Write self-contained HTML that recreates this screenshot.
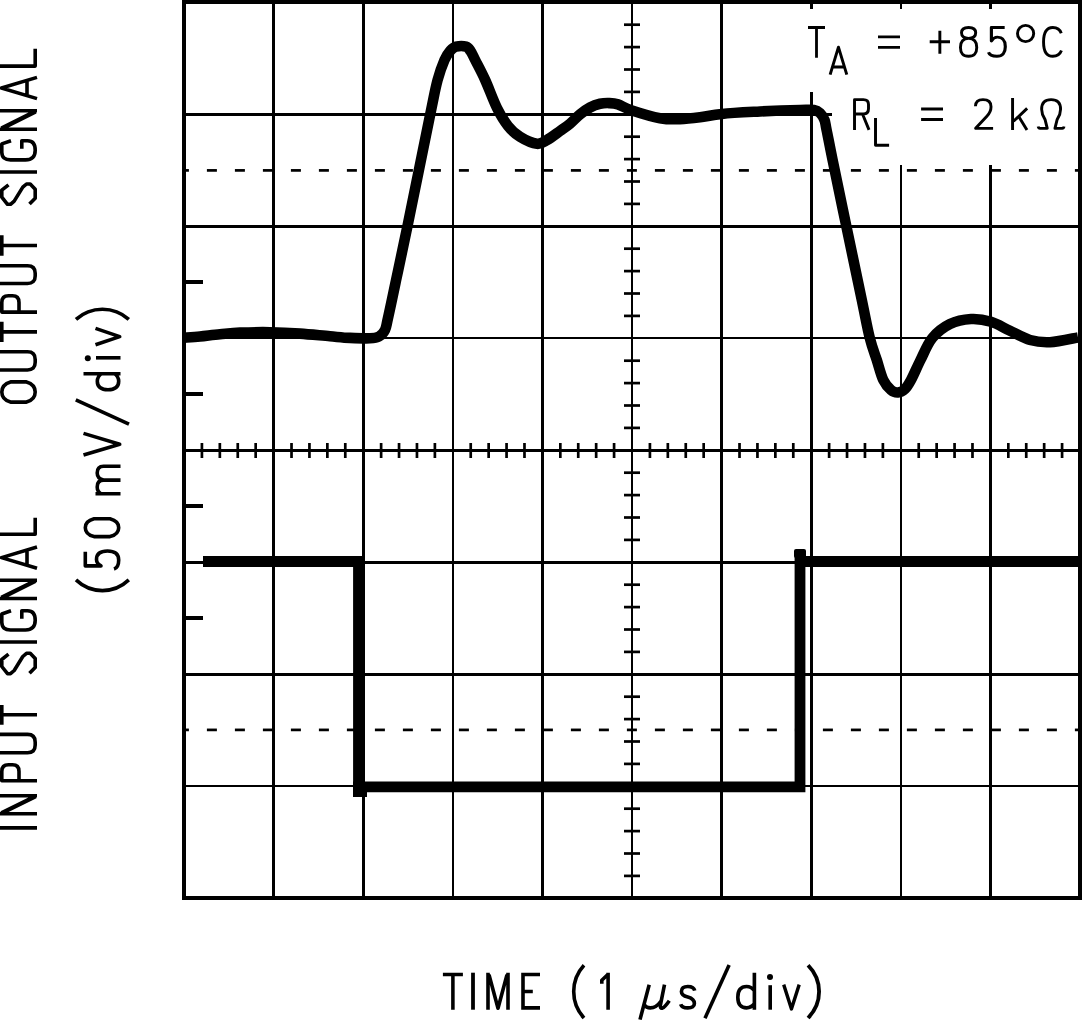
<!DOCTYPE html>
<html><head><meta charset="utf-8"><style>
html,body{margin:0;padding:0;background:#fff;width:1083px;height:1021px;overflow:hidden}
svg{display:block}
</style></head><body><svg width="1083" height="1021" viewBox="0 0 1083 1021"><g fill="#000" shape-rendering="crispEdges"><rect x="272" y="0" width="3" height="900"/><rect x="362" y="0" width="3" height="900"/><rect x="452" y="0" width="2" height="900"/><rect x="541" y="0" width="3" height="900"/><rect x="631" y="0" width="2" height="900"/><rect x="720" y="0" width="3" height="900"/><rect x="810" y="0" width="3" height="900"/><rect x="900" y="0" width="2" height="900"/><rect x="989" y="0" width="3" height="900"/><rect x="182" y="113" width="900" height="3"/><rect x="182" y="225" width="900" height="3"/><rect x="182" y="337" width="900" height="2"/><rect x="182" y="449" width="900" height="3"/><rect x="182" y="561" width="900" height="3"/><rect x="182" y="673" width="900" height="3"/><rect x="182" y="785" width="900" height="2"/></g><g stroke="#000" stroke-width="2.7" fill="none"><line x1="624" y1="24.70" x2="640" y2="24.70"/><line x1="624" y1="47.10" x2="640" y2="47.10"/><line x1="624" y1="69.50" x2="640" y2="69.50"/><line x1="624" y1="91.90" x2="640" y2="91.90"/><line x1="624" y1="136.70" x2="640" y2="136.70"/><line x1="624" y1="159.10" x2="640" y2="159.10"/><line x1="624" y1="181.50" x2="640" y2="181.50"/><line x1="624" y1="203.90" x2="640" y2="203.90"/><line x1="624" y1="248.70" x2="640" y2="248.70"/><line x1="624" y1="271.10" x2="640" y2="271.10"/><line x1="624" y1="293.50" x2="640" y2="293.50"/><line x1="624" y1="315.90" x2="640" y2="315.90"/><line x1="624" y1="360.70" x2="640" y2="360.70"/><line x1="624" y1="383.10" x2="640" y2="383.10"/><line x1="624" y1="405.50" x2="640" y2="405.50"/><line x1="624" y1="427.90" x2="640" y2="427.90"/><line x1="624" y1="472.70" x2="640" y2="472.70"/><line x1="624" y1="495.10" x2="640" y2="495.10"/><line x1="624" y1="517.50" x2="640" y2="517.50"/><line x1="624" y1="539.90" x2="640" y2="539.90"/><line x1="624" y1="584.70" x2="640" y2="584.70"/><line x1="624" y1="607.10" x2="640" y2="607.10"/><line x1="624" y1="629.50" x2="640" y2="629.50"/><line x1="624" y1="651.90" x2="640" y2="651.90"/><line x1="624" y1="696.70" x2="640" y2="696.70"/><line x1="624" y1="719.10" x2="640" y2="719.10"/><line x1="624" y1="741.50" x2="640" y2="741.50"/><line x1="624" y1="763.90" x2="640" y2="763.90"/><line x1="624" y1="808.70" x2="640" y2="808.70"/><line x1="624" y1="831.10" x2="640" y2="831.10"/><line x1="624" y1="853.50" x2="640" y2="853.50"/><line x1="624" y1="875.90" x2="640" y2="875.90"/><line x1="201.92" y1="443" x2="201.92" y2="458"/><line x1="219.84" y1="443" x2="219.84" y2="458"/><line x1="237.76" y1="443" x2="237.76" y2="458"/><line x1="255.68" y1="443" x2="255.68" y2="458"/><line x1="291.52" y1="443" x2="291.52" y2="458"/><line x1="309.44" y1="443" x2="309.44" y2="458"/><line x1="327.36" y1="443" x2="327.36" y2="458"/><line x1="345.28" y1="443" x2="345.28" y2="458"/><line x1="381.12" y1="443" x2="381.12" y2="458"/><line x1="399.04" y1="443" x2="399.04" y2="458"/><line x1="416.96" y1="443" x2="416.96" y2="458"/><line x1="434.88" y1="443" x2="434.88" y2="458"/><line x1="470.72" y1="443" x2="470.72" y2="458"/><line x1="488.64" y1="443" x2="488.64" y2="458"/><line x1="506.56" y1="443" x2="506.56" y2="458"/><line x1="524.48" y1="443" x2="524.48" y2="458"/><line x1="560.32" y1="443" x2="560.32" y2="458"/><line x1="578.24" y1="443" x2="578.24" y2="458"/><line x1="596.16" y1="443" x2="596.16" y2="458"/><line x1="614.08" y1="443" x2="614.08" y2="458"/><line x1="649.92" y1="443" x2="649.92" y2="458"/><line x1="667.84" y1="443" x2="667.84" y2="458"/><line x1="685.76" y1="443" x2="685.76" y2="458"/><line x1="703.68" y1="443" x2="703.68" y2="458"/><line x1="739.52" y1="443" x2="739.52" y2="458"/><line x1="757.44" y1="443" x2="757.44" y2="458"/><line x1="775.36" y1="443" x2="775.36" y2="458"/><line x1="793.28" y1="443" x2="793.28" y2="458"/><line x1="829.12" y1="443" x2="829.12" y2="458"/><line x1="847.04" y1="443" x2="847.04" y2="458"/><line x1="864.96" y1="443" x2="864.96" y2="458"/><line x1="882.88" y1="443" x2="882.88" y2="458"/><line x1="918.72" y1="443" x2="918.72" y2="458"/><line x1="936.64" y1="443" x2="936.64" y2="458"/><line x1="954.56" y1="443" x2="954.56" y2="458"/><line x1="972.48" y1="443" x2="972.48" y2="458"/><line x1="1008.32" y1="443" x2="1008.32" y2="458"/><line x1="1026.24" y1="443" x2="1026.24" y2="458"/><line x1="1044.16" y1="443" x2="1044.16" y2="458"/><line x1="1062.08" y1="443" x2="1062.08" y2="458"/></g><g stroke="#000" stroke-width="4" fill="none"><line x1="182" y1="282" x2="203" y2="282"/><line x1="182" y1="394" x2="203" y2="394"/><line x1="182" y1="506" x2="203" y2="506"/><line x1="182" y1="618" x2="203" y2="618"/></g><g fill="#000"><rect x="182.00" y="169.05" width="6.90" height="2.7"/><rect x="206.90" y="169.05" width="10.00" height="2.7"/><rect x="234.90" y="169.05" width="10.00" height="2.7"/><rect x="262.90" y="169.05" width="10.00" height="2.7"/><rect x="290.90" y="169.05" width="10.00" height="2.7"/><rect x="318.90" y="169.05" width="10.00" height="2.7"/><rect x="346.90" y="169.05" width="10.00" height="2.7"/><rect x="374.90" y="169.05" width="10.00" height="2.7"/><rect x="402.90" y="169.05" width="10.00" height="2.7"/><rect x="430.90" y="169.05" width="10.00" height="2.7"/><rect x="458.90" y="169.05" width="10.00" height="2.7"/><rect x="486.90" y="169.05" width="10.00" height="2.7"/><rect x="514.90" y="169.05" width="10.00" height="2.7"/><rect x="542.90" y="169.05" width="10.00" height="2.7"/><rect x="570.90" y="169.05" width="10.00" height="2.7"/><rect x="598.90" y="169.05" width="10.00" height="2.7"/><rect x="626.90" y="169.05" width="10.00" height="2.7"/><rect x="654.90" y="169.05" width="10.00" height="2.7"/><rect x="682.90" y="169.05" width="10.00" height="2.7"/><rect x="710.90" y="169.05" width="10.00" height="2.7"/><rect x="738.90" y="169.05" width="10.00" height="2.7"/><rect x="766.90" y="169.05" width="10.00" height="2.7"/><rect x="794.90" y="169.05" width="10.00" height="2.7"/><rect x="822.90" y="169.05" width="10.00" height="2.7"/><rect x="850.90" y="169.05" width="10.00" height="2.7"/><rect x="878.90" y="169.05" width="10.00" height="2.7"/><rect x="906.90" y="169.05" width="10.00" height="2.7"/><rect x="934.90" y="169.05" width="10.00" height="2.7"/><rect x="962.90" y="169.05" width="10.00" height="2.7"/><rect x="990.90" y="169.05" width="10.00" height="2.7"/><rect x="1018.90" y="169.05" width="10.00" height="2.7"/><rect x="1046.90" y="169.05" width="10.00" height="2.7"/><rect x="1074.90" y="169.05" width="7.10" height="2.7"/><rect x="182.00" y="728.55" width="6.90" height="2.7"/><rect x="206.90" y="728.55" width="10.00" height="2.7"/><rect x="234.90" y="728.55" width="10.00" height="2.7"/><rect x="262.90" y="728.55" width="10.00" height="2.7"/><rect x="290.90" y="728.55" width="10.00" height="2.7"/><rect x="318.90" y="728.55" width="10.00" height="2.7"/><rect x="346.90" y="728.55" width="10.00" height="2.7"/><rect x="374.90" y="728.55" width="10.00" height="2.7"/><rect x="402.90" y="728.55" width="10.00" height="2.7"/><rect x="430.90" y="728.55" width="10.00" height="2.7"/><rect x="458.90" y="728.55" width="10.00" height="2.7"/><rect x="486.90" y="728.55" width="10.00" height="2.7"/><rect x="514.90" y="728.55" width="10.00" height="2.7"/><rect x="542.90" y="728.55" width="10.00" height="2.7"/><rect x="570.90" y="728.55" width="10.00" height="2.7"/><rect x="598.90" y="728.55" width="10.00" height="2.7"/><rect x="626.90" y="728.55" width="10.00" height="2.7"/><rect x="654.90" y="728.55" width="10.00" height="2.7"/><rect x="682.90" y="728.55" width="10.00" height="2.7"/><rect x="710.90" y="728.55" width="10.00" height="2.7"/><rect x="738.90" y="728.55" width="10.00" height="2.7"/><rect x="766.90" y="728.55" width="10.00" height="2.7"/><rect x="794.90" y="728.55" width="10.00" height="2.7"/><rect x="822.90" y="728.55" width="10.00" height="2.7"/><rect x="850.90" y="728.55" width="10.00" height="2.7"/><rect x="878.90" y="728.55" width="10.00" height="2.7"/><rect x="906.90" y="728.55" width="10.00" height="2.7"/><rect x="934.90" y="728.55" width="10.00" height="2.7"/><rect x="962.90" y="728.55" width="10.00" height="2.7"/><rect x="990.90" y="728.55" width="10.00" height="2.7"/><rect x="1018.90" y="728.55" width="10.00" height="2.7"/><rect x="1046.90" y="728.55" width="10.00" height="2.7"/><rect x="1074.90" y="728.55" width="7.10" height="2.7"/></g><rect x="184" y="2" width="896" height="896" fill="none" stroke="#000" stroke-width="4"/><rect x="800" y="9" width="278" height="83" fill="#fff"/><rect x="832" y="92" width="246" height="73" fill="#fff"/><path d="M184.0,337.7 C186.7,337.5 194.0,337.1 200.0,336.5 C206.0,335.9 213.3,334.8 220.0,334.2 C226.7,333.6 231.7,332.9 240.0,332.6 C248.3,332.3 260.0,332.0 270.0,332.2 C280.0,332.4 290.0,332.9 300.0,333.6 C310.0,334.3 321.7,335.6 330.0,336.3 C338.3,337.0 343.3,337.6 350.0,337.9 C356.7,338.2 365.2,338.5 370.0,338.3 C374.8,338.1 376.5,337.9 379.0,336.5 C381.5,335.1 383.5,333.1 385.0,330.0 C386.5,326.9 386.1,326.3 388.0,318.0 C389.9,309.7 392.9,295.3 396.1,280.0 C399.4,264.7 401.8,253.7 407.5,226.0 C413.2,198.3 425.3,138.3 430.3,114.0 C435.3,89.7 435.2,89.0 437.6,80.0 C440.0,71.0 442.4,64.9 444.5,60.0 C446.6,55.1 448.6,52.7 450.5,50.5 C452.4,48.3 453.4,47.2 456.0,46.6 C458.6,46.0 463.6,45.9 466.0,46.6 C468.4,47.3 469.0,48.8 470.5,51.0 C472.0,53.2 472.8,55.2 475.2,60.0 C477.6,64.8 481.6,72.0 485.2,80.0 C488.8,88.0 493.2,100.3 497.0,108.0 C500.8,115.7 504.2,121.2 508.0,126.0 C511.8,130.8 515.2,133.8 520.0,136.8 C524.8,139.8 532.5,143.3 537.0,143.8 C541.5,144.3 543.2,142.1 547.0,140.0 C550.8,137.9 556.2,133.7 560.0,131.0 C563.8,128.3 566.7,126.5 570.0,123.7 C573.3,120.9 576.7,117.1 580.0,114.4 C583.3,111.7 586.7,109.3 590.0,107.5 C593.3,105.7 596.8,104.5 600.0,103.8 C603.2,103.1 606.0,103.0 609.0,103.1 C612.0,103.2 614.2,103.2 618.0,104.4 C621.8,105.6 625.0,108.2 632.0,110.5 C639.0,112.8 652.0,116.8 660.0,118.2 C668.0,119.7 673.3,119.4 680.0,119.2 C686.7,119.0 693.0,118.2 700.0,117.3 C707.0,116.4 712.0,114.9 722.0,113.9 C732.0,112.9 747.0,112.2 760.0,111.5 C773.0,110.8 791.0,110.2 800.0,110.0 C809.0,109.8 810.7,109.5 814.0,110.0 C817.3,110.5 818.2,111.3 820.0,113.0 C821.8,114.7 823.4,117.2 824.5,120.0 C825.6,122.8 825.2,123.3 826.6,130.0 C828.0,136.7 829.3,144.0 832.6,160.0 C835.9,176.0 841.4,202.7 846.3,226.0 C851.2,249.3 857.9,281.3 861.8,300.0 C865.7,318.7 867.3,328.0 869.8,338.0 C872.3,348.0 874.5,353.0 876.8,360.0 C879.0,367.0 880.9,375.0 883.3,380.0 C885.7,385.0 888.5,387.9 891.0,390.0 C893.5,392.1 895.7,392.7 898.0,392.5 C900.3,392.3 902.8,391.1 905.0,389.0 C907.2,386.9 908.4,384.8 911.0,380.0 C913.6,375.2 917.0,367.0 920.5,360.0 C924.0,353.0 927.4,344.0 932.3,338.0 C937.2,332.0 943.5,327.2 950.0,324.0 C956.5,320.8 964.2,319.4 971.0,319.0 C977.8,318.6 984.5,319.8 991.0,321.8 C997.5,323.8 1003.5,327.8 1010.0,330.8 C1016.5,333.8 1023.3,338.1 1030.0,340.0 C1036.7,341.9 1042.0,342.6 1050.0,342.2 C1058.0,341.8 1073.3,338.3 1078.0,337.5" fill="none" stroke="#000" stroke-width="10.6" stroke-linejoin="round" stroke-linecap="butt"/><path d="M203,561.5 H358.5 V792 M353,786.8 H800 V561.5 H1078" fill="none" stroke="#000" stroke-width="10.8" stroke-linejoin="miter"/><rect x="353" y="790" width="14" height="7" fill="#000"/><rect x="794" y="549" width="12" height="9" rx="2" fill="#000"/><g fill="none" stroke="#000" stroke-linecap="butt" stroke-linejoin="round"><g transform="translate(37,404) rotate(-90)"><path transform="translate(0.10,0) scale(1.0000,1.0000)" d="M11.9,-35.2 Q19.5,-35.2 22,-26.5 V-10.5 Q19.5,-1.8 11.9,-1.8 Q4.3,-1.8 1.8,-10.5 V-26.5 Q4.3,-35.2 11.9,-35.2 Z" stroke-width="3.60"/><path transform="translate(32.20,0) scale(1.0000,1.0000)" d="M1.8,-37 V-9.5 Q1.8,-1.8 9.5,-1.8 H12.3 Q20,-1.8 20,-9.5 V-37" stroke-width="3.60"/><path transform="translate(62.10,0) scale(0.9901,1.0000)" d="M0,-35.2 H20.3 M10.15,-35.2 V0" stroke-width="3.60"/><path transform="translate(90.10,0) scale(0.9950,1.0000)" d="M1.8,0 V-35.2 H11.5 Q18.2,-35.2 18.2,-28.5 V-24.5 Q18.2,-18 11.5,-18 H1.8" stroke-width="3.60"/><path transform="translate(118.80,0) scale(0.9725,1.0000)" d="M1.8,-37 V-9.5 Q1.8,-1.8 9.5,-1.8 H12.3 Q20,-1.8 20,-9.5 V-37" stroke-width="3.60"/><path transform="translate(148.20,0) scale(1.0148,1.0000)" d="M0,-35.2 H20.3 M10.15,-35.2 V0" stroke-width="3.60"/><path transform="translate(197.90,0) scale(0.9958,1.0000)" d="M21.3,-28.5 L16,-35.2 H9 L1.8,-29.5 V-26.5 L5,-22.8 L19,-14.2 L22.2,-10.5 V-6.8 L17,-1.8 H8 L2.2,-7.5" stroke-width="3.60"/><path transform="translate(230.10,0) scale(1.0000,1.0000)" d="M1.9,-37 V0" stroke-width="3.60"/><path transform="translate(242.30,0) scale(1.0000,1.0000)" d="M21,-26 L17.8,-35.2 H9.5 Q1.8,-35.2 1.8,-26.5 V-11.5 Q1.8,-1.8 11.5,-1.8 Q21,-1.8 21,-9.5 V-15.2 H13" stroke-width="3.60"/><path transform="translate(273.00,0) scale(1.0000,1.0000)" d="M1.8,0 V-37 M20.2,0 V-37 M2.1,-35.3 L19.1,-1.3 M2.9,-35.7 L19.9,-1.7" stroke-width="3.60"/><path transform="translate(304.10,0) scale(1.0000,1.0000)" d="M1.3,0 L11.9,-35.5 L22.5,0 M4.6,-10 H19.2" stroke-width="3.60"/><path transform="translate(336.10,0) scale(1.0000,1.0000)" d="M1.8,-37 V-1.8 H19.1" stroke-width="3.60"/></g><g transform="translate(37,829.8) rotate(-90)"><path transform="translate(0.00,0) scale(1.0000,1.0000)" d="M1.9,-37 V0" stroke-width="3.60"/><path transform="translate(14.20,0) scale(0.9864,1.0000)" d="M1.8,0 V-37 M20.2,0 V-37 M2.1,-35.3 L19.1,-1.3 M2.9,-35.7 L19.9,-1.7" stroke-width="3.60"/><path transform="translate(47.20,0) scale(0.9750,1.0000)" d="M1.8,0 V-35.2 H11.5 Q18.2,-35.2 18.2,-28.5 V-24.5 Q18.2,-18 11.5,-18 H1.8" stroke-width="3.60"/><path transform="translate(75.20,0) scale(1.0092,1.0000)" d="M1.8,-37 V-9.5 Q1.8,-1.8 9.5,-1.8 H12.3 Q20,-1.8 20,-9.5 V-37" stroke-width="3.60"/><path transform="translate(105.00,0) scale(0.9803,1.0000)" d="M0,-35.2 H20.3 M10.15,-35.2 V0" stroke-width="3.60"/><path transform="translate(154.30,0) scale(1.0000,1.0000)" d="M21.3,-28.5 L16,-35.2 H9 L1.8,-29.5 V-26.5 L5,-22.8 L19,-14.2 L22.2,-10.5 V-6.8 L17,-1.8 H8 L2.2,-7.5" stroke-width="3.60"/><path transform="translate(185.90,0) scale(1.0000,1.0000)" d="M1.9,-37 V0" stroke-width="3.60"/><path transform="translate(198.00,0) scale(1.0000,1.0000)" d="M21,-26 L17.8,-35.2 H9.5 Q1.8,-35.2 1.8,-26.5 V-11.5 Q1.8,-1.8 11.5,-1.8 Q21,-1.8 21,-9.5 V-15.2 H13" stroke-width="3.60"/><path transform="translate(229.60,0) scale(0.9909,1.0000)" d="M1.8,0 V-37 M20.2,0 V-37 M2.1,-35.3 L19.1,-1.3 M2.9,-35.7 L19.9,-1.7" stroke-width="3.60"/><path transform="translate(260.30,0) scale(1.0000,1.0000)" d="M1.3,0 L11.9,-35.5 L22.5,0 M4.6,-10 H19.2" stroke-width="3.60"/><path transform="translate(293.80,0) scale(0.9529,1.0000)" d="M1.8,-37 V-1.8 H19.1" stroke-width="3.60"/></g><g transform="translate(120.5,592.3) rotate(-90)"><path transform="translate(0.00,0) scale(1.0385,1.0000)" d="M12,-44.5 A39,39 0 0 0 12,8.3" stroke-width="3.60"/><path transform="translate(21.80,0) scale(1.0000,1.0000)" d="M18.8,-35.2 H4.6 V-19.5 Q7,-24 11,-24 Q19.5,-24 19.5,-13 Q19.5,-1.8 10.5,-1.8 Q3,-1.8 1.5,-6.5" stroke-width="3.60"/><path transform="translate(53.90,0) scale(1.0000,1.0000)" d="M10.7,-35.2 Q17.3,-35.2 19.6,-26.5 V-10.5 Q17.3,-1.8 10.7,-1.8 Q4.1,-1.8 1.8,-10.5 V-26.5 Q4.1,-35.2 10.7,-35.2 Z" stroke-width="3.60"/><path transform="translate(96.80,0) scale(1.0000,1.0000)" d="M1.7,0 V-25 M1.7,-19.5 Q4,-23.3 8.5,-23.3 Q15.4,-23.3 15.4,-17 V0 M15.4,-17 Q17,-23.3 22.5,-23.3 Q29.2,-23.3 29.2,-17 V0" stroke-width="3.60"/><path transform="translate(135.70,0) scale(1.0000,1.0000)" d="M1.6,-37 L12.4,-0.8 L23.2,-37" stroke-width="3.60"/><path transform="translate(166.30,0) scale(1.0000,1.0000)" d="M1.8,8.5 L26.2,-44.7" stroke-width="3.60"/><path transform="translate(200.70,0) scale(0.9850,1.0000)" d="M18.2,-37 V0 M18.2,-19 Q15,-23.2 10.5,-23.2 Q1.8,-23.2 1.8,-12.5 Q1.8,-1.8 10.5,-1.8 Q15,-1.8 18.2,-6" stroke-width="3.60"/><path transform="translate(231.30,0) scale(1.0000,1.0000)" d="M3.2,-24.5 V0" stroke-width="3.60"/><path transform="translate(245.80,0) scale(1.0000,1.0000)" d="M1.7,-25 L9.9,-0.8 L18.1,-25" stroke-width="3.60"/><path transform="translate(271.90,0) scale(0.9846,1.0000)" d="M1,-44.5 A39,39 0 0 1 1,8.3" stroke-width="3.60"/></g><g transform="translate(0,1009.7)"><path transform="translate(442.90,0) scale(0.9852,1.0000)" d="M0,-35.2 H20.3 M10.15,-35.2 V0" stroke-width="3.60"/><path transform="translate(471.00,0) scale(1.0526,1.0000)" d="M1.9,-37 V0" stroke-width="3.60"/><path transform="translate(486.00,0) scale(1.0000,1.0000)" d="M2,0 V-37 M22,0 V-37 M3,-35 L12,-1.5 L21,-35" stroke-width="3.60"/><path transform="translate(521.00,0) scale(1.0000,1.0000)" d="M2,0 V-37 M0.2,-35.2 H19 M0.2,-18.2 H11.8 M0.2,-1.8 H19" stroke-width="3.60"/><path transform="translate(572.00,0) scale(1.0000,1.0000)" d="M12,-44.5 A39,39 0 0 0 12,8.3" stroke-width="3.60"/><path transform="translate(600.00,0) scale(1.0000,1.0000)" d="M8.1,0 V-37 M8.1,-35.5 L1.8,-29.5 V-26" stroke-width="3.60"/><path transform="translate(637.80,0) scale(1.0000,1.0000)" d="M11.4,-25 L2.2,9.9 M6.4,-5 Q8.5,-1.8 12.5,-1.8 Q18.5,-1.8 23.5,-9 M26.7,-25 L22.6,-4.5 Q22.3,-1 24.5,-1.5 Q27,-2.5 31.5,-9" stroke-width="3.60"/><path transform="translate(679.20,0) scale(1.0118,1.0000)" d="M15.3,-19 Q14.5,-23.2 8.5,-23.2 Q2.2,-23.2 2.2,-18.3 Q2.2,-14.2 8.5,-12.8 Q15,-11 15,-6.3 Q15,-1.8 8.5,-1.8 Q2.5,-1.8 1.5,-5.5" stroke-width="3.60"/><path transform="translate(703.20,0) scale(0.9893,1.0000)" d="M1.8,8.5 L26.2,-44.7" stroke-width="3.60"/><path transform="translate(736.00,0) scale(1.0100,1.0000)" d="M18.2,-37 V0 M18.2,-19 Q15,-23.2 10.5,-23.2 Q1.8,-23.2 1.8,-12.5 Q1.8,-1.8 10.5,-1.8 Q15,-1.8 18.2,-6" stroke-width="3.60"/><path transform="translate(767.00,0) scale(1.0000,1.0000)" d="M3.2,-24.5 V0" stroke-width="3.60"/><path transform="translate(782.10,0) scale(0.9444,1.0000)" d="M1.7,-25 L9.9,-0.8 L18.1,-25" stroke-width="3.60"/><path transform="translate(807.00,0) scale(1.0692,1.0000)" d="M1,-44.5 A39,39 0 0 1 1,8.3" stroke-width="3.60"/></g><g transform="translate(0,57.8)"><path transform="translate(808.00,0) scale(0.8374,0.8595)" d="M0,-35.2 H20.3 M10.15,-35.2 V0" stroke-width="3.37"/><path transform="translate(878.00,0) scale(0.8661,0.8595)" d="M0,-24.3 H25.4 M0,-12.1 H25.4" stroke-width="3.37"/><path transform="translate(929.70,0) scale(0.8638,0.8595)" d="M0,-18.7 H23.5 M11.75,-31.6 V-4.7" stroke-width="3.37"/><path transform="translate(958.90,0) scale(0.8661,0.8595)" d="M11.2,-35.2 C16.5,-35.2 19.4,-33 19.4,-29 C19.4,-25 16.5,-22.6 11.2,-22.6 C5.9,-22.6 3,-25 3,-29 C3,-33 5.9,-35.2 11.2,-35.2 Z M11.2,-22.6 C17.6,-22.6 20.6,-18.5 20.6,-12 C20.6,-5 17.6,-1.8 11.2,-1.8 C4.8,-1.8 1.8,-5 1.8,-12 C1.8,-18.5 4.8,-22.6 11.2,-22.6 Z" stroke-width="3.37"/><path transform="translate(987.10,0) scale(0.9343,0.8595)" d="M18.8,-35.2 H4.6 V-19.5 Q7,-24 11,-24 Q19.5,-24 19.5,-13 Q19.5,-1.8 10.5,-1.8 Q3,-1.8 1.5,-6.5" stroke-width="3.37"/><path transform="translate(1042.00,0) scale(0.8642,0.8595)" d="M22.3,-28.5 Q20,-35.2 12.5,-35.2 Q1.8,-35.2 1.8,-18.5 Q1.8,-1.8 12.5,-1.8 Q20,-1.8 22.5,-8.5" stroke-width="3.37"/></g><g transform="translate(0,74.7)"><path transform="translate(829.10,0) scale(0.7857,0.7757)" d="M1.3,0 L11.9,-35.5 L22.5,0 M4.6,-10 H19.2" stroke-width="3.74"/></g><g transform="translate(0,129.9)"><path transform="translate(853.00,0) scale(0.8657,0.8595)" d="M1.75,0 V-35.2 H12 Q17.9,-35.2 17.9,-29.5 V-24.5 Q17.9,-18.5 12,-18.5 H1.75 M11,-18.5 L18.5,0" stroke-width="3.37"/><path transform="translate(921.10,0) scale(0.8622,0.8595)" d="M0,-24.3 H25.4 M0,-12.1 H25.4" stroke-width="3.37"/><path transform="translate(973.90,0) scale(0.8649,0.8595)" d="M1.8,-27.5 Q2,-35.2 10.5,-35.2 Q19.8,-35.2 19.8,-27 Q19.8,-21 15,-16 L2,-1.8 H22.2" stroke-width="3.37"/><path transform="translate(1011.10,0) scale(0.8667,0.8595)" d="M1.7,-37 V0 M18.5,-25 L2.8,-10 M8.8,-15.5 L18.3,0" stroke-width="3.37"/><path transform="translate(1037.30,0) scale(0.8652,0.8595)" d="M1,-4 Q1.5,-1.8 3,-1.8 H11.5 L9,-12 Q5,-18 5,-24 Q5,-35.2 15.95,-35.2 Q26.9,-35.2 26.9,-24 Q26.9,-18 22.9,-12 L20.4,-1.8 H28.9 Q30.4,-1.8 30.9,-4" stroke-width="3.37"/></g><g transform="translate(0,146.7)"><path transform="translate(874.10,0) scale(0.7853,0.7730)" d="M1.8,-37 V-1.8 H19.1" stroke-width="3.75"/></g><circle cx="1025.6" cy="33.5" r="8.1" stroke-width="2.9"/></g><g fill="#000"><circle cx="770" cy="977" r="3"/><circle cx="87.8" cy="358.3" r="3"/></g></svg></body></html>
